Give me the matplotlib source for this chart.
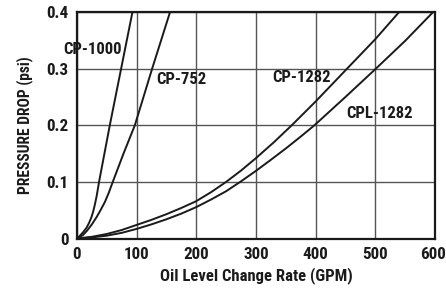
import matplotlib
matplotlib.use("Agg")
import matplotlib.pyplot as plt
import matplotlib.transforms as mtransforms
from matplotlib import font_manager as fm

available = set(f.name for f in fm.fontManager.ttflist)
preferred = ['Nimbus Sans Narrow', 'Liberation Sans Narrow', 'Arial Narrow', 'Roboto Condensed',
             'Archivo Narrow', 'PT Sans Narrow', 'Barlow Semi Condensed', 'Barlow Condensed', 'Liberation Sans']
chosen = [n for n in preferred if n in available][:1] + ['DejaVu Sans']
plt.rcParams['font.family'] = chosen
plt.rcParams['font.weight'] = 'bold'

# Data (x: GPM, y: psi)
cp1000_x = [0, 5, 11, 16, 20, 24, 27, 30, 33, 37, 55, 74, 93]
cp1000_y = [0, 0.005, 0.012, 0.019, 0.027, 0.037, 0.047, 0.06, 0.075, 0.1, 0.2, 0.3, 0.4]

cp752_x = [0, 10, 17, 25, 33, 40, 47, 53, 60, 78, 97, 126, 156]
cp752_y = [0, 0.006, 0.014, 0.025, 0.038, 0.051, 0.065, 0.08, 0.1, 0.15, 0.2, 0.3, 0.4]

cp1282_x = [0, 25, 50, 75, 100, 125, 150, 175, 200, 225, 250, 275, 300, 330, 360, 400, 450, 500, 540]
cp1282_y = [0, 0.003, 0.008, 0.015, 0.024, 0.033, 0.043, 0.054, 0.066, 0.082, 0.1, 0.12, 0.142, 0.17, 0.2, 0.242, 0.297, 0.352, 0.4]

cpl1282_x = [0, 25, 50, 75, 100, 125, 150, 175, 200, 225, 250, 275, 300, 325, 350, 375, 398, 450, 500, 550, 597]
cpl1282_y = [0, 0.002, 0.005, 0.01, 0.017, 0.025, 0.034, 0.044, 0.0555, 0.069, 0.0835, 0.101, 0.1195, 0.139, 0.159, 0.18, 0.2, 0.25, 0.299, 0.349, 0.4]

labels = ["CP-1000", "CP-752", "CP-1282", "CPL-1282"]
label_pos = [(-23.5, 0.334), (132.5, 0.2805), (328, 0.2846), (451, 0.2216)]

x_ticks = [0, 100, 200, 300, 400, 500, 600]
y_ticks = [0, 0.1, 0.2, 0.3, 0.4]
y_ticklabels = ["0", "0.1", "0.2", "0.3", "0.4"]

fig = plt.figure(figsize=(4.46, 2.91), dpi=100)
ax = fig.add_axes([0.1726, 0.1804, 0.9753 - 0.1726, 0.9588 - 0.1804])

for xs, ys in [(cp1000_x, cp1000_y), (cp752_x, cp752_y), (cp1282_x, cp1282_y), (cpl1282_x, cpl1282_y)]:
    ax.plot(xs, ys, color='#1a1a1a', lw=1.4, solid_capstyle='butt', solid_joinstyle='round', zorder=3)

for lab, (lx, ly) in zip(labels, label_pos):
    ax.text(lx, ly, lab, fontsize=12, fontweight='bold', ha='left', va='center',
            color='#1a1a1a', zorder=4, clip_on=False)

ax.set_xlim(0, 600)
ax.set_ylim(0, 0.4)
ax.set_xticks(x_ticks)
ax.set_xticklabels([str(t) for t in x_ticks])
ax.set_yticks(y_ticks)
ax.set_yticklabels(y_ticklabels)
ax.grid(True, color='#555555', lw=1.0, zorder=1)
ax.tick_params(length=0, labelsize=12.3, pad=6, colors='#1a1a1a')
for lbl in ax.get_xticklabels() + ax.get_yticklabels():
    lbl.set_fontweight('bold')
# keep the last x tick label inside the canvas
last = ax.get_xticklabels()[-1]
last.set_transform(last.get_transform() + mtransforms.ScaledTranslation(-2 / 100, 0, fig.dpi_scale_trans))
for s in ax.spines.values():
    s.set_linewidth(1.6)
    s.set_color('#1a1a1a')

ax.set_xlabel("Oil Level Change Rate (GPM)", fontsize=12, fontweight='bold', color='#1a1a1a', labelpad=4)
ax.set_ylabel("PRESSURE DROP (psi)", fontsize=11.2, fontweight='bold', color='#1a1a1a', labelpad=10)

fig.savefig("out.png", dpi=100)
